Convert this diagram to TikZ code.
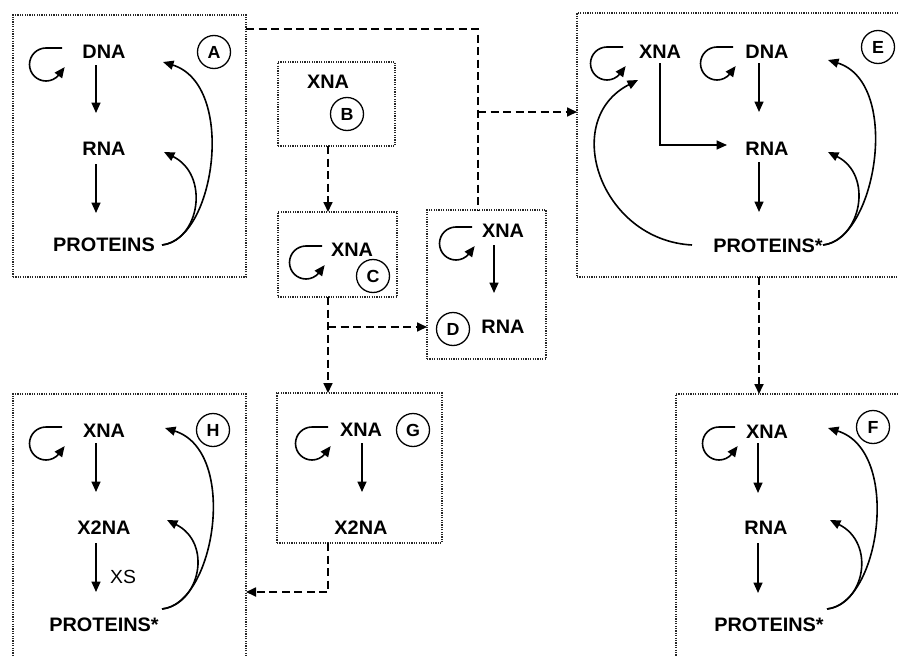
\documentclass[tikz,border=0pt]{standalone}
\usepackage{fontspec}
\setmainfont{Liberation Sans}[FakeStretch=1.02]
\usetikzlibrary{arrows.meta,calc}
\begin{document}
\begin{tikzpicture}[x=1pt,y=-1pt,
  lbl/.style={font=\bfseries\fontsize{19.5}{22}\selectfont, inner sep=0pt},
  xslbl/.style={font=\fontsize{19}{22}\selectfont, inner sep=0pt},
  circ/.style={draw, circle, line width=1.3pt, minimum size=33pt, inner sep=0pt, font=\bfseries\fontsize{17.5}{19}\selectfont},
  box/.style={draw=black!85, line width=1.4pt, dash pattern=on 1.2pt off 1.2pt, anchor=north west, inner sep=0pt, outer sep=0pt},
  arr/.style={line width=1.6pt, -{Triangle[length=10.5pt,width=9pt]}},
  dl/.style={line width=1.7pt, dash pattern=on 8pt off 4.5pt},
  dla/.style={dl, -{Triangle[length=10pt,width=9pt]}},
  selfloop/.pic={\draw[arr] (0,0) -- (-16,0) arc[start angle=-90, end angle=-320, radius=16.5] -- ++(6,-8);}
]
\useasboundingbox (0,0) rectangle (898,656);
\clip (0,0) rectangle (898,656);

% boxes
\node[box, minimum width=233pt, minimum height=262pt] (bA) at (13,15) {};
\node[box, minimum width=117pt, minimum height=84pt] (bB) at (278,62) {};
\node[box, minimum width=119pt, minimum height=85pt] (bC) at (278,212) {};
\node[box, minimum width=119pt, minimum height=149pt] (bD) at (427,210) {};
\node[box, minimum width=343pt, minimum height=264pt] (bE) at (577,13) {};
\node[box, minimum width=244pt, minimum height=286pt] (bF) at (676,394) {};
\node[box, minimum width=165pt, minimum height=150pt] (bG) at (277,393) {};
\node[box, minimum width=233pt, minimum height=286pt] (bH) at (13,394) {};

% Panel A
\node[lbl] (A1) at (104,52) {DNA};
\node[lbl] (A2) at (104,149) {RNA};
\node[lbl] (A3) at (104,245) {PROTEINS};
\node[circ] (Ac) at (214,52) {A};
\draw[arr] ($(A1)+(-8,13)$) -- ($(A2)+(-8,-36)$);
\draw[arr] ($(A2)+(-8,15)$) -- ($(A3)+(-8,-32)$);
\pic at ($(A1)+(-42,-4)$) {selfloop};
\draw[arr] ($(A3)+(58,0)$) .. controls +(53,-5) and +(74,23) .. ($(A1)+(59,10)$);
\draw[arr] ($(A3)+(58,0)$) .. controls +(38,-5) and +(46,23) .. ($(A2)+(60,3)$);

% Panel B
\node[lbl] (B1) at (328,82) {XNA};
\node[circ] (Bc) at (347,114) {B};

% Panel C
\node[lbl] (C1) at (352,250) {XNA};
\node[circ] (Cc) at (373,276) {C};
\pic at ($(C1)+(-30,-4)$) {selfloop};

% Panel D
\node[lbl] (D1) at (503,231) {XNA};
\node[lbl] (D2) at (503,327) {RNA};
\node[circ] (Dc) at (453,329) {D};
\draw[arr] ($(D1)+(-9,14)$) -- ($(D2)+(-9,-34)$);
\pic at ($(D1)+(-31,-4)$) {selfloop};

% Panel E
\node[lbl] (E0) at (660,52) {XNA};
\node[lbl] (E1) at (767,52) {DNA};
\node[lbl] (E2) at (767,149) {RNA};
\node[lbl] (E3) at (768,246) {PROTEINS*};
\node[circ] (Ec) at (878,47) {E};
\pic at ($(E0)+(-37,-5)$) {selfloop};
\pic at ($(E1)+(-34,-5)$) {selfloop};
\draw[arr] ($(E1)+(-8,11)$) -- ($(E2)+(-8,-37)$);
\draw[arr] ($(E2)+(-8,13)$) -- ($(E3)+(-9,-34)$);
\draw[arr] ($(E0)+(0,11)$) |- ($(E2)+(-40,-4)$);
\draw[arr] ($(E3)+(-76,-1)$) .. controls +(-92,-5) and +(-78,40) .. ($(E0)+(-22,28)$);
\draw[arr] ($(E3)+(55,-1)$) .. controls +(53,-5) and +(74,23) .. ($(E1)+(61,8)$);
\draw[arr] ($(E3)+(55,-1)$) .. controls +(38,-5) and +(46,23) .. ($(E2)+(61,3)$);

% Panel F
\node[lbl] (F1) at (767,432) {XNA};
\node[lbl] (F2) at (766,528) {RNA};
\node[lbl] (F3) at (769,625) {PROTEINS*};
\node[circ] (Fc) at (873,427) {F};
\draw[arr] ($(F1)+(-9,11)$) -- ($(F2)+(-8,-35)$);
\draw[arr] ($(F2)+(-8,15)$) -- ($(F3)+(-11,-32)$);
\pic at ($(F1)+(-32,-5)$) {selfloop};
\draw[arr] ($(F3)+(58,-16)$) .. controls +(53,-5) and +(74,23) .. ($(F1)+(61,-4)$);
\draw[arr] ($(F3)+(58,-16)$) .. controls +(38,-5) and +(46,23) .. ($(F2)+(64,-8)$);

% Panel G
\node[lbl] (G1) at (361,430) {XNA};
\node[lbl] (G2) at (361,528) {X2NA};
\node[circ] (Gc) at (413,430) {G};
\draw[arr] ($(G1)+(1,13)$) -- ($(G2)+(1,-36)$);
\pic at ($(G1)+(-33,-3)$) {selfloop};

% Panel H
\node[lbl] (H1) at (104,431) {XNA};
\node[lbl] (H2) at (104,528) {X2NA};
\node[lbl] (H3) at (104,625) {PROTEINS*};
\node[circ] (Hc) at (213,430) {H};
\node[xslbl] (Hx) at (123,577) {XS};
\draw[arr] ($(H1)+(-8,12)$) -- ($(H2)+(-8,-36)$);
\draw[arr] ($(H2)+(-8,15)$) -- ($(H3)+(-8,-33)$);
\pic at ($(H1)+(-42,-4)$) {selfloop};
\draw[arr] ($(H3)+(58,-16)$) .. controls +(53,-5) and +(74,23) .. ($(H1)+(61,-3)$);
\draw[arr] ($(H3)+(58,-16)$) .. controls +(38,-5) and +(46,23) .. ($(H2)+(63,-8)$);

% dashed connectors
\draw[dl] ($(bA.north east)+(0,14)$) -| ($(bD.north west)+(51,0)$);
\draw[dla] ($(bD.north west)+(51,-98)$) -- ($(bE.north west)+(0,99)$);
\draw[dla] ($(bB.south west)+(50,0)$) -- ($(bC.north west)+(50,0)$);
\draw[dla] ($(bC.south west)+(50,0)$) -- ($(bG.north west)+(51,0)$);
\draw[dla] ($(bC.south west)+(50,30)$) -- ($(bD.north west)+(0,117)$);
\draw[dla] ($(bE.south west)+(182,0)$) -- ($(bF.north west)+(83,0)$);
\draw[dla] ($(bG.south west)+(51,0)$) |- ($(bH.north east)+(0,198)$);
\end{tikzpicture}
\end{document}
